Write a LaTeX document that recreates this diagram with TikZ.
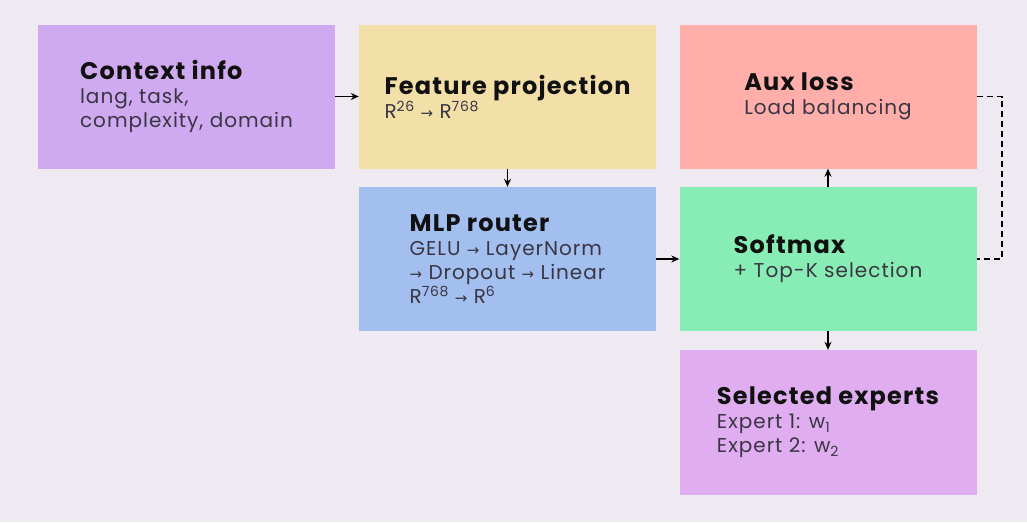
\documentclass[tikz,border=0pt]{standalone}
\usepackage{fontspec}
\setmainfont{Poppins}[LetterSpace=5]
\newfontfamily\symfont{DejaVu Sans}
\usetikzlibrary{arrows.meta}
\definecolor{bgc}{HTML}{EFE9F1}
\definecolor{ctxc}{HTML}{CFAAF0}
\definecolor{featc}{HTML}{F3E0A8}
\definecolor{auxc}{HTML}{FFAEAA}
\definecolor{mlpc}{HTML}{A3BFF0}
\definecolor{softc}{HTML}{88EDB4}
\definecolor{selc}{HTML}{DFADF0}
\definecolor{titc}{HTML}{111111}
\definecolor{bodc}{HTML}{3A3542}
\newcommand{\ar}{{\symfont\fontsize{15}{15}\selectfont →}}
\newcommand{\sps}[1]{\raisebox{0.6ex}{\fontsize{14}{14}\selectfont #1}}
\newcommand{\sbs}[1]{\raisebox{-0.3ex}{\fontsize{14}{14}\selectfont #1}}
\newcommand{\ttl}[1]{{\fontsize{24}{24}\selectfont\bfseries\color{titc}#1}}
\tikzset{
  box/.style={minimum width=297pt, minimum height=144pt, inner sep=0pt, align=left,
    font=\fontsize{20}{24}\selectfont, text=bodc},
  conn/.style={-{Stealth[length=8pt,width=7pt]}, line width=1.4pt, black},
  dashconn/.style={dashed, dash pattern=on 6pt off 4pt, line width=1.4pt, black}
}
\begin{document}
\begin{tikzpicture}[x=1pt,y=-1pt]
\fill[bgc] (0,0) rectangle (1027,522);
\useasboundingbox (0,0) rectangle (1027,522);
\node[box, fill=ctxc] (ctx) at (186.5,96.5) {\ttl{Context info}\\lang, task,\\complexity, domain};
\node[box, fill=featc] (feat) at (507.5,96.5) {\ttl{Feature projection}\\R\sps{26} \ar{} R\sps{768}};
\node[box, fill=auxc] (aux) at (828,96.5) {\ttl{Aux loss}\\Load balancing};
\node[box, fill=mlpc] (mlp) at (507.5,259) {\ttl{MLP router}\\GELU \ar{} LayerNorm\\\ar{} Dropout \ar{} Linear\\R\sps{768} \ar{} R\sps{6}};
\node[box, fill=softc] (soft) at (828,259) {\ttl{Softmax}\\+ Top-K selection};
\node[box, fill=selc, minimum height=145pt] (sel) at (828,422.5) {\ttl{Selected experts}\\Expert 1: w\sbs{1}\\Expert 2: w\sbs{2}};
\draw[conn] (ctx.east) -- (feat.west);
\draw[conn] (feat.south) -- (mlp.north);
\draw[conn] (mlp.east) -- (soft.west);
\draw[conn] (soft.north) -- (aux.south);
\draw[conn] (soft.south) -- (sel.north);
\coordinate (dc) at (1002,96.5);
\draw[dashconn] (aux.east) -- (dc) |- (soft.east);
\end{tikzpicture}
\end{document}
